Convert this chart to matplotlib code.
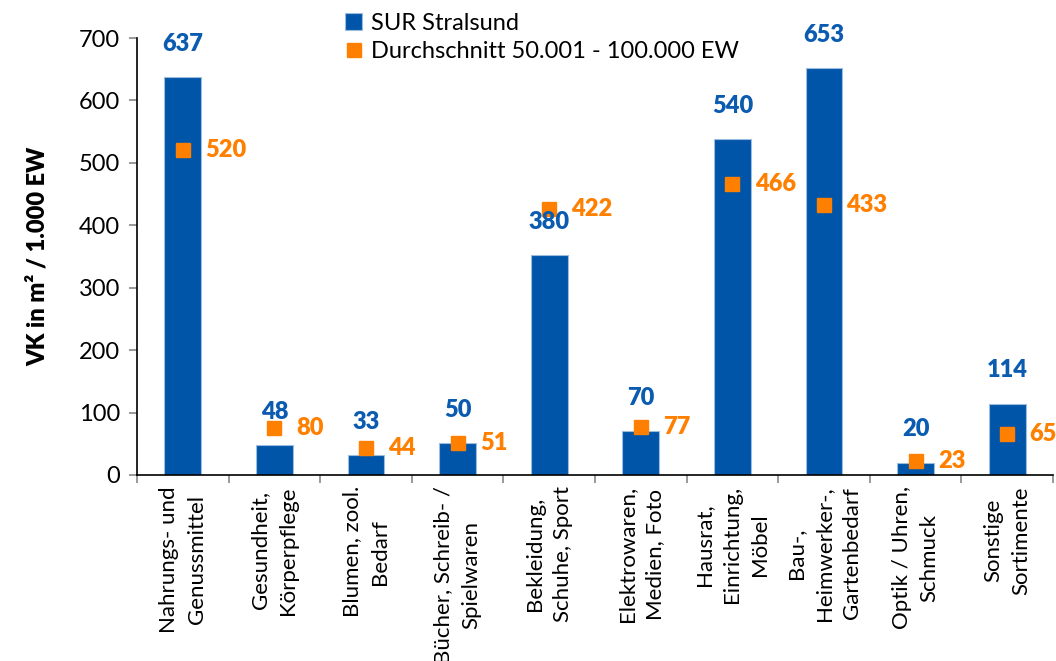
import matplotlib.pyplot as plt
import numpy as np

plt.rcParams['font.family'] = ['Lato', 'DejaVu Sans']

categories = [
    "Nahrungs- und\nGenussmittel",
    "Gesundheit,\nKörperpflege",
    "Blumen, zool.\nBedarf",
    "Bücher, Schreib- /\nSpielwaren",
    "Bekleidung,\nSchuhe, Sport",
    "Elektrowaren,\nMedien, Foto",
    "Hausrat,\nEinrichtung,\nMöbel",
    "Bau-,\nHeimwerker-,\nGartenbedarf",
    "Optik / Uhren,\nSchmuck",
    "Sonstige\nSortimente",
]
# bar heights as drawn in the picture, and the labels printed above them
sur_bars = [637, 48, 32, 51, 352, 70, 538, 652, 20, 114]
sur_labels = [637, 48, 33, 50, 380, 70, 540, 653, 20, 114]
avg_points = [520, 76, 44, 51, 426, 77, 466, 433, 22, 65]
avg_labels = [520, 80, 44, 51, 422, 77, 466, 433, 23, 65]

blue = '#0055a8'
blue_txt = '#0b5cb0'
orange = '#ff8000'

fig = plt.figure(figsize=(10.56, 6.61), dpi=100)
ax = fig.add_axes([0.1297, 0.2814, 0.8675, 0.6611])

x = np.arange(len(categories))
bars = ax.bar(x, sur_bars, width=0.40, color=blue, edgecolor='#9dbde0', linewidth=0.8,
              label='SUR Stralsund', zorder=2)
pts, = ax.plot(x, avg_points, linestyle='none', marker='s', markersize=10.5, color=orange,
               label='Durchschnitt 50.001 - 100.000 EW', zorder=3)

for xi, h, lab in zip(x, sur_bars, sur_labels):
    ax.annotate(str(lab), (xi, h), xytext=(0, 24), textcoords='offset points',
                ha='center', va='center', fontsize=17, fontweight='heavy', color=blue_txt)
for xi, v, lab in zip(x, avg_points, avg_labels):
    ax.annotate(str(lab), (xi, v), xytext=(16, 0), textcoords='offset points',
                ha='left', va='center', fontsize=17, fontweight='heavy', color=orange)

ax.set_xlim(-0.5, len(categories) - 0.5)
ax.set_ylim(0, 700)
ax.set_yticks(range(0, 701, 100))
ax.tick_params(axis='y', labelsize=17, length=6, color='#888888', width=1.2, pad=6)

ax.set_xticks(x)
ax.set_xticklabels(categories, rotation=90, fontsize=16, ha='center', va='top',
                   multialignment='center', linespacing=1.5)
ax.tick_params(axis='x', length=0, pad=8)
ax.set_xticks(np.arange(-0.5, len(categories), 1), minor=True)
ax.tick_params(axis='x', which='minor', length=6, color='#888888', width=1.2)

for s in ['top', 'right']:
    ax.spines[s].set_visible(False)
ax.spines['left'].set_linewidth(1.2)
ax.spines['bottom'].set_linewidth(1.2)

ax.set_ylabel('VK in m² / 1.000 EW', fontsize=17, fontweight='heavy', labelpad=22)

fig.legend([bars, pts], ['SUR Stralsund', 'Durchschnitt 50.001 - 100.000 EW'],
           loc='upper left', bbox_to_anchor=(0.318, 0.995), frameon=False,
           fontsize=17, handlelength=0.7, handleheight=0.7, handletextpad=0.4,
           labelspacing=0.3, borderaxespad=0)

fig.savefig('out.png', dpi=100)
